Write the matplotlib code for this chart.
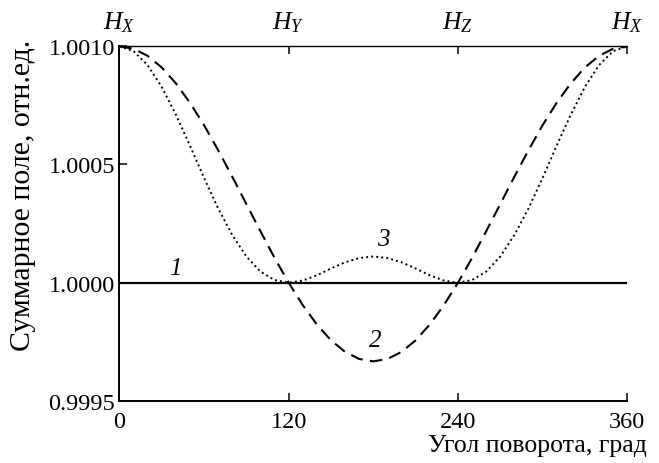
import matplotlib
matplotlib.use("Agg")
import matplotlib.pyplot as plt
import numpy as np
from matplotlib.ticker import FormatStrFormatter

plt.rcParams.update({
    "font.family": "serif",
    "font.serif": ["Liberation Serif", "DejaVu Serif"],
    "mathtext.fontset": "custom",
    "mathtext.it": "Liberation Serif:italic",
    "mathtext.rm": "Liberation Serif",
    "font.size": 17.5,
})

# rotation angle, degrees
angle = [0, 10, 20, 30, 40, 50, 60, 70, 80, 90, 100, 110, 120, 130, 140, 150, 160, 170, 180,
         190, 200, 210, 220, 230, 240, 250, 260, 270, 280, 290, 300, 310, 320, 330, 340, 350, 360]

# deviation from 1.0, in units of 1e-4
dev_1 = [0.0] * 37
dev_2 = [10.0, 9.90, 9.60, 9.11, 8.44, 7.62, 6.67, 5.61, 4.49, 3.33, 2.18, 1.05, 0.0,
         -0.95, -1.77, -2.44, -2.93, -3.23, -3.33, -3.23, -2.93, -2.44, -1.77, -0.95,
         0.0, 1.05, 2.18, 3.33, 4.49, 5.61, 6.67, 7.62, 8.44, 9.11, 9.60, 9.90, 10.0]
dev_3 = [10.0, 9.80, 9.21, 8.29, 7.12, 5.81, 4.44, 3.15, 2.02, 1.11, 0.47, 0.11, 0.0,
         0.09, 0.31, 0.60, 0.86, 1.04, 1.11, 1.04, 0.86, 0.60, 0.31, 0.09,
         0.0, 0.11, 0.47, 1.11, 2.02, 3.15, 4.44, 5.81, 7.12, 8.29, 9.21, 9.80, 10.0]

top_ticks = [0, 120, 240, 360]
top_labels = [r"$H_X$", r"$H_Y$", r"$H_Z$", r"$H_X$"]

x = np.asarray(angle, dtype=float)
y1 = 1.0 + np.asarray(dev_1) * 1e-4
y2 = 1.0 + np.asarray(dev_2) * 1e-4
y3 = 1.0 + np.asarray(dev_3) * 1e-4

fig = plt.figure(figsize=(6.59, 4.64), dpi=100)
ax = fig.add_axes([0.181, 0.134, 0.771, 0.764])

ax.plot(x, y1, color="black", lw=1.6, ls="-")
ax.plot(x, y2, color="black", lw=1.5, ls=(0, (6, 3.5)))
ax.plot(x, y3, color="black", lw=1.4, ls=(0, (1, 1.6)))

ax.text(40, 1.000062, "1", style="italic", ha="center", va="center", fontsize=18)
ax.text(181, 0.999757, "2", style="italic", ha="center", va="center", fontsize=18)
ax.text(187, 1.000185, "3", style="italic", ha="center", va="center", fontsize=18)

ax.set_xlim(0, 360)
ax.set_ylim(0.9995, 1.0010)
ax.set_xticks([0, 120, 240, 360])
ax.set_yticks([0.9995, 1.0000, 1.0005, 1.0010])
ax.yaxis.set_major_formatter(FormatStrFormatter("%.4f"))
ax.tick_params(direction="in", length=6, width=1.1, top=True, right=False)
ax.tick_params(axis="x", pad=7)
ax.tick_params(axis="y", pad=3)

for xt, lab in zip(top_ticks, top_labels):
    ax.text(xt, 1.0010 + 0.000105, lab, ha="center", va="center", fontsize=18.5)

ax.spines["right"].set_visible(False)
ax.spines["left"].set_linewidth(1.4)
ax.spines["bottom"].set_linewidth(1.4)
ax.spines["top"].set_linewidth(1.0)

ax.set_xlabel("Угол поворота, град", ha="right", fontsize=18.5)
ax.xaxis.set_label_coords(1.039, -0.093)
ax.set_ylabel("Суммарное поле, отн.ед.", fontsize=21.5)
ax.yaxis.set_label_coords(-0.163, 0.583)

fig.savefig("out.png", dpi=100)
